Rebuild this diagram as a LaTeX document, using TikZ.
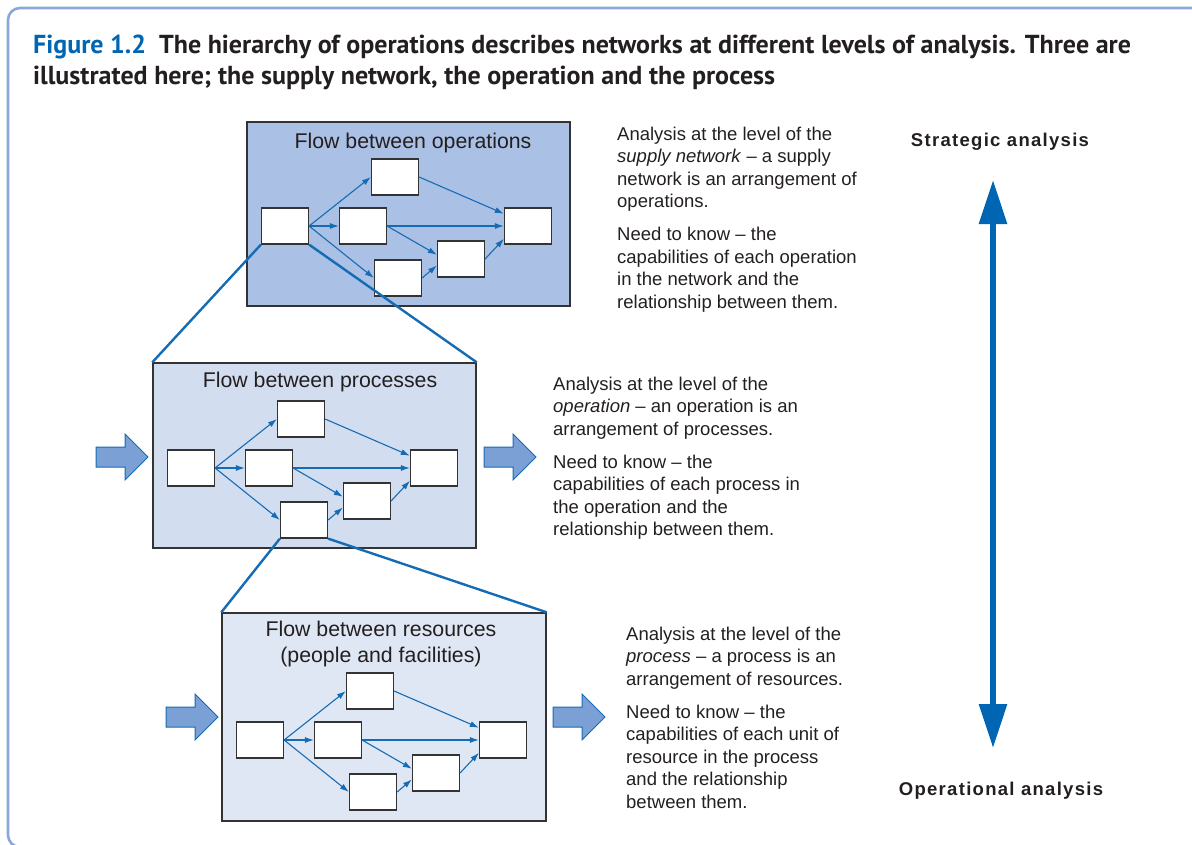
\documentclass[tikz,border=0pt]{standalone}
\usepackage{fontspec}
\setmainfont{Liberation Sans}
\newfontfamily\titlefont{PT Sans}
\usetikzlibrary{arrows.meta}
\tikzset{>={Latex[width=6pt,length=9pt]}}
\definecolor{figblue}{RGB}{0,102,179}
\definecolor{framecol}{RGB}{137,168,217}
\definecolor{netblue}{RGB}{170,192,228}
\definecolor{opblue}{RGB}{211,221,240}
\definecolor{resblue}{RGB}{224,231,244}
\definecolor{arrowfill}{RGB}{122,160,213}
\definecolor{flowblue}{RGB}{22,108,180}
\definecolor{textblack}{RGB}{35,31,32}

\begin{document}
\begin{tikzpicture}[
    x = 1pt, y = -1pt,
    frame/.style = {draw=black!80, line width=1.4pt, minimum width=323pt,
        inner sep=0pt},
    unit/.style = {draw=black!80, line width=1.2pt, fill=white,
        minimum width=47pt, minimum height=36pt, inner sep=0pt},
    flow/.style = {->, draw=flowblue, line width=1.1pt},
    zoomline/.style = {draw=flowblue, line width=2.4pt},
    heading/.style = {font=\fontsize{21.3}{26}\selectfont, text=textblack,
        align=center, inner sep=0pt},
    note/.style = {font=\fontsize{18.5}{22.5}\selectfont, text=textblack,
        align=left, anchor=north west, inner sep=0pt},
    scalelabel/.style = {font=\fontsize{18.5}{22}\selectfont\bfseries\addfontfeature{LetterSpace=7},
        text=textblack, anchor=base, inner sep=0pt},
    titleline/.style = {font=\titlefont\bfseries\fontsize{26}{31}\selectfont,
        text=textblack, anchor=base west, inner sep=0pt},
    blockarr/.pic = {\draw[draw=flowblue, line width=1pt, fill=arrowfill]
        (-52,-10) -- (-23,-10) -- (-23,-23) -- (0,0) -- (-23,23) -- (-23,10)
        -- (-52,10) -- cycle;}
  ]
  \useasboundingbox (0,0) rectangle (1192,844);
  \begin{scope}
    \clip (0,0) rectangle (1192,844);
    \draw[framecol, line width=2.6pt, rounded corners=12pt] (8,8) rectangle (1250,847);
  \end{scope}

  % caption
  \node[titleline] (title1) at (33,53)
    {\textcolor{figblue}{Figure 1.2}\hspace{0.5em}The hierarchy of operations describes networks at different levels of analysis. Three are};
  \node[titleline] (title2) at (33,84)
    {illustrated here; the supply network, the operation and the process};

  % the three levels
  \node[frame, fill=netblue, minimum height=184pt] (opbox) at (408.5,214) {};
  \node[frame, fill=opblue, minimum height=185pt] (prbox) at (314.5,455.5) {};
  \node[frame, fill=resblue, minimum width=324pt, minimum height=208pt] (rsbox) at (384,717) {};

  \node[heading, anchor=base] (optitle) at (413,148) {Flow between operations};
  \node[heading, anchor=base] (prtitle) at (320,387) {Flow between processes};
  \node[heading, anchor=north] (rstitle) at (381,621) {Flow between resources\\(people and facilities)};

  \foreach \lvl/\ax/\ay in {op/285/226, pr/191/468, rs/260/740} {
    \node[unit] (\lvl A) at (\ax,\ay) {};
    \node[unit] (\lvl B) at (\ax+110,\ay-49) {};
    \node[unit] (\lvl C) at (\ax+78,\ay) {};
    \node[unit] (\lvl D) at (\ax+113,\ay+52) {};
    \node[unit] (\lvl E) at (\ax+176,\ay+33) {};
    \node[unit] (\lvl F) at (\ax+243,\ay) {};
    \draw[flow] (\lvl A.east) -- (\lvl B.west);
    \draw[flow] (\lvl A.east) -- (\lvl C.west);
    \draw[flow] (\lvl A.east) -- (\lvl D.west);
    \draw[flow] (\lvl B.east) -- (\lvl F.153);
    \draw[flow] (\lvl C.east) -- (\lvl F.west);
    \draw[flow] (\lvl C.east) -- (\lvl E.170);
    \draw[flow] (\lvl D.east) -- (\lvl E.195);
    \draw[flow] (\lvl E.east) -- (\lvl F.208);
  }

  % zoom lines
  \draw[zoomline] (opA.south west) -- (prbox.north west);
  \draw[zoomline] (opA.south east) -- (prbox.north east);
  \draw[zoomline] (prD.south west) -- (rsbox.north west);
  \draw[zoomline] (prD.south east) -- (rsbox.north east);

  % in and out
  \pic (prin) at (148,457) {blockarr};
  \pic (prout) at (536,457) {blockarr};
  \pic (rsin) at (218,717) {blockarr};
  \pic (rsout) at (605,717) {blockarr};

  % notes
  \node[note] (opnote) at (617,126.5) {Analysis at the level of the\\
    \textit{supply network} -- a supply\\ network is an arrangement of\\
    operations.\\[10.5pt] Need to know -- the\\ capabilities of each operation\\
    in the network and the\\ relationship between them.};
  \node[note] (prnote) at (553,376.5) {Analysis at the level of the\\
    \textit{operation} -- an operation is an\\ arrangement of processes.\\[10.5pt]
    Need to know -- the\\ capabilities of each process in\\
    the operation and the\\ relationship between them.};
  \node[note] (rsnote) at (626,626.5) {Analysis at the level of the\\
    \textit{process} -- a process is an\\ arrangement of resources.\\[10.5pt]
    Need to know -- the\\ capabilities of each unit of\\
    resource in the process\\ and the relationship\\ between them.};

  % scale of analysis
  \node[scalelabel] (strat) at (1000,146) {Strategic analysis};
  \node[scalelabel] (oper) at (1001,795) {Operational analysis};
  \coordinate (scaletop) at (993,180);
  \coordinate (scalebot) at (993,748);
  \draw[line width=6pt, draw=figblue,
    {Triangle[width=27pt,length=44pt]}-{Triangle[width=27pt,length=44pt]}]
    (scaletop) -- (scalebot);
\end{tikzpicture}
\end{document}
